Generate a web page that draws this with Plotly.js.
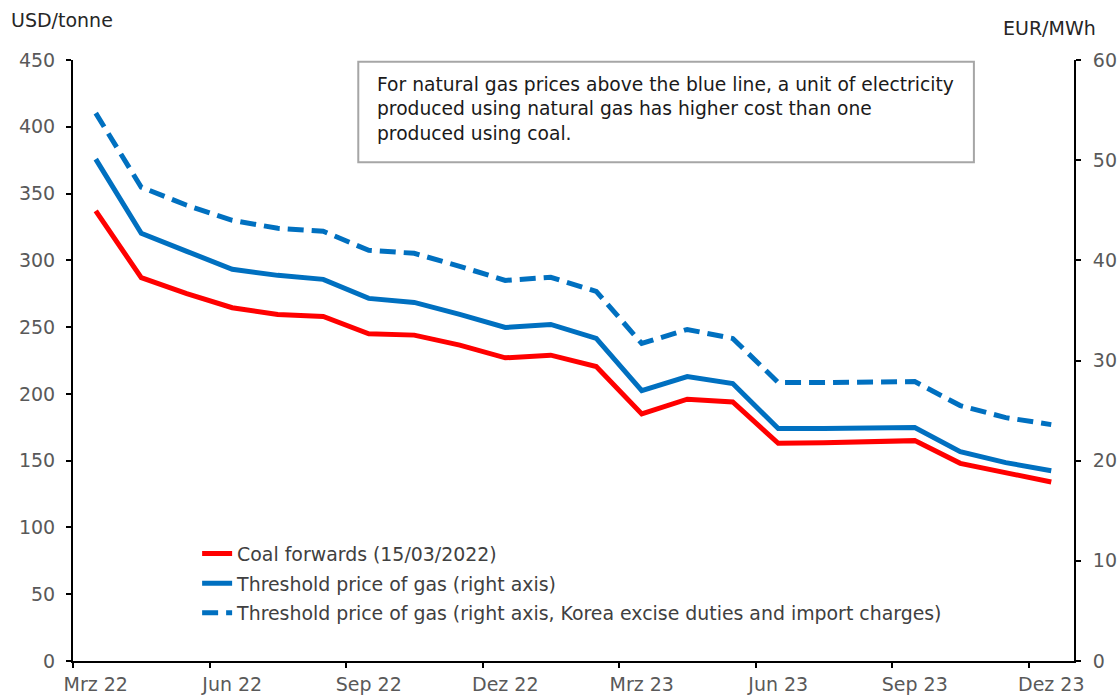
<!DOCTYPE html>
<html>
<head>
<meta charset="utf-8">
<script src="https://cdn.plot.ly/plotly-3.0.1.min.js"></script>
<style>
html,body{margin:0;padding:0;background:#fff;}
#chart{width:1119px;height:695px;}
</style>
</head>
<body>
<div id="chart"></div>
<script>
// Months Mar 2022 .. Dec 2023
const months = ['Mrz 22','Apr 22','Mai 22','Jun 22','Jul 22','Aug 22','Sep 22','Okt 22','Nov 22','Dez 22','Jan 23','Feb 23',
                'Mrz 23','Apr 23','Mai 23','Jun 23','Jul 23','Aug 23','Sep 23','Okt 23','Nov 23','Dez 23'];
const tickLabels = ['Mrz 22','Jun 22','Sep 22','Dez 22','Mrz 23','Jun 23','Sep 23','Dez 23'];

// Coal forwards, USD/tonne (left axis)
const coal = [337, 287, 275, 264.5, 259.5, 258, 245, 244, 236.5, 227, 229, 220.5,
              185, 196, 194, 163, 163.5, 164, 165, 148, 141, 134];
// Threshold price of gas, EUR/MWh (right axis)
const gasThreshold = [50.1, 42.7, 40.9, 39.1, 38.5, 38.1, 36.2, 35.8, 34.6, 33.3, 33.6, 32.2,
                      27.0, 28.4, 27.7, 23.2, 23.2, 23.2, 23.3, 20.9, 19.8, 19.0];
// Threshold price of gas incl. Korea excise duties and import charges, EUR/MWh (right axis)
const gasThresholdKorea = [54.7, 47.3, 45.5, 44.0, 43.2, 42.9, 41.0, 40.7, 39.4, 38.0, 38.3, 36.9,
                           31.7, 33.1, 32.2, 27.8, 27.8, 27.8, 27.9, 25.5, 24.3, 23.6];

const seriesNames = ['Coal forwards (15/03/2022)',
                     'Threshold price of gas (right axis)',
                     'Threshold price of gas (right axis, Korea excise duties and import charges)'];

const xIdx = months.map((m, i) => i);
const labelIdx = tickLabels.map(l => months.indexOf(l));
const boundaryIdx = labelIdx.map(i => i - 0.5);

const FONT = 'DejaVu Sans, Liberation Sans, Arial, sans-serif';
const FS = 19;
const RED = '#FF0000', BLUE = '#0070C0';

const traces = [
  {x: xIdx, y: coal, name: seriesNames[0], type: 'scatter', mode: 'lines',
   line: {color: RED, width: 5}, yaxis: 'y', legendgroup: 'a', hoverinfo: 'skip'},
  {x: xIdx, y: gasThreshold, name: seriesNames[1], type: 'scatter', mode: 'lines',
   line: {color: BLUE, width: 5}, yaxis: 'y2', legendgroup: 'b', hoverinfo: 'skip'},
  {x: xIdx, y: gasThresholdKorea, name: seriesNames[2], type: 'scatter', mode: 'lines',
   line: {color: BLUE, width: 5, dash: '16px,8px'}, yaxis: 'y2', legendgroup: 'c', hoverinfo: 'skip'},
  {x: [], y: [], xaxis: 'x2', yaxis: 'y', showlegend: false, hoverinfo: 'skip'}
];

const xr = [-0.5, months.length - 0.5];

const layout = {
  width: 1119, height: 695,
  margin: {l: 73, r: 45, t: 60, b: 34},
  paper_bgcolor: '#fff', plot_bgcolor: '#fff',
  font: {family: FONT, size: FS, color: '#595959'},
  showlegend: true,
  legend: {x: 0.124, y: 0.21, xanchor: 'left', yanchor: 'top',
           font: {family: FONT, size: 18.9, color: '#404040'},
           bgcolor: 'rgba(0,0,0,0)', traceorder: 'grouped', tracegroupgap: 2},
  xaxis: {range: xr, tickmode: 'array', tickvals: labelIdx, ticktext: tickLabels,
          ticks: '', showgrid: false, zeroline: false, showline: true,
          linecolor: '#000', linewidth: 2, tickfont: {size: FS, color: '#595959'},
          ticklabelstandoff: 5},
  xaxis2: {range: xr, overlaying: 'x', anchor: 'y', side: 'bottom',
           tickmode: 'array', tickvals: boundaryIdx, ticks: 'outside', ticklen: 6,
           tickwidth: 2, tickcolor: '#000', showticklabels: false, showgrid: false,
           zeroline: false, showline: false},
  yaxis: {range: [0, 450], dtick: 50, ticks: 'outside', ticklen: 5, tickwidth: 2,
          tickcolor: '#000', showline: true, linecolor: '#000', linewidth: 2,
          showgrid: false, zeroline: false, tickfont: {size: FS, color: '#595959'},
          ticklabelstandoff: 7},
  yaxis2: {range: [0, 60], dtick: 10, overlaying: 'y', side: 'right', ticks: 'outside',
           ticklen: 5, tickwidth: 2, tickcolor: '#000', showline: true, linecolor: '#000',
           linewidth: 2, showgrid: false, zeroline: false,
           tickfont: {size: FS, color: '#595959'}, ticklabelstandoff: 8},
  shapes: [
    {type: 'rect', xref: 'paper', yref: 'paper', x0: 0.285, x1: 0.9, y0: 0.83, y1: 0.997,
     line: {color: '#A6A6A6', width: 2}, fillcolor: '#fff', layer: 'above'}
  ],
  annotations: [
    {text: 'USD/tonne', xref: 'paper', yref: 'paper', x: -0.064, y: 1.067,
     xanchor: 'left', yanchor: 'middle', showarrow: false,
     font: {family: FONT, size: FS, color: '#262626'}},
    {text: 'EUR/MWh', xref: 'paper', yref: 'paper', x: 1.024, y: 1.053,
     xanchor: 'right', yanchor: 'middle', showarrow: false,
     font: {family: FONT, size: FS, color: '#262626'}},
    {text: 'For natural gas prices above the blue line, a unit of electricity<br>produced using natural gas has higher cost than one<br>produced using coal.',
     xref: 'paper', yref: 'paper', x: 0.302, y: 0.98, xanchor: 'left', yanchor: 'top',
     align: 'left', showarrow: false,
     font: {family: FONT, size: 18.7, color: '#1A1A1A'}}
  ]
};

Plotly.newPlot('chart', traces, layout, {displayModeBar: false, staticPlot: true});
</script>
</body>
</html>
